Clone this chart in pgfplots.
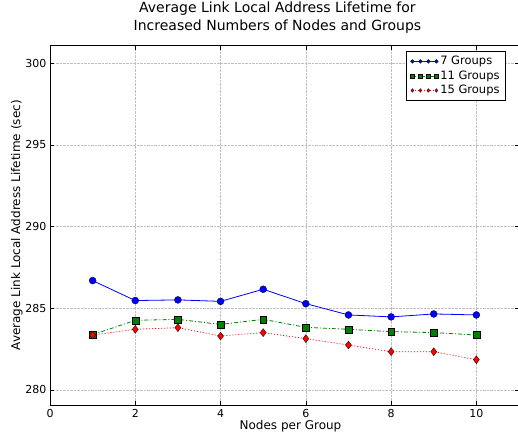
\documentclass[border=0pt]{standalone}
\usepackage{pgfplots}
\pgfplotsset{compat=1.18}
\usepackage{fontspec}
\setmainfont{DejaVu Sans}
\definecolor{mblue}{rgb}{0,0,1}
\definecolor{mgreen}{rgb}{0,0.5,0}
\definecolor{mred}{rgb}{1,0,0}
\begin{document}
\begin{tikzpicture}
\useasboundingbox (-50pt,-31pt) rectangle (468pt,405pt);
\begin{axis}[
  at={(0pt,0pt)}, anchor=south west,
  scale only axis, width=469pt, height=359.3pt,
  xmin=0, xmax=11, ymin=279.08, ymax=301.06,
  xtick={0,2,4,6,8,10}, ytick={280,285,290,295,300},
  tick align=inside, major tick length=4pt,
  tick style={black, line width=0.5pt},
  axis line style={black, line width=0.8pt},
  grid=major, grid style={densely dotted, gray!50, line width=0.5pt},
  /pgf/number format/assume math mode=true,
  ticklabel style={font=\fontsize{11}{13}\selectfont},
  xticklabel style={yshift=-1pt},
  title={Average Link Local Address Lifetime for\\Increased Numbers of Nodes and Groups},
  title style={font=\fontsize{14}{18}\selectfont, align=center, at={(0.485,1)}, anchor=south, yshift=3pt},
  xlabel={Nodes per Group},
  ylabel={Average Link Local Address Lifetime (sec)},
  label style={font=\fontsize{12}{14}\selectfont},
  xlabel style={xshift=6pt, yshift=4pt},
  ylabel style={yshift=-4pt},
  legend style={at={(0.972,0.985)}, anchor=north east, draw=black, line width=0.6pt,
    font=\fontsize{11.5}{13}\selectfont, inner xsep=4pt, inner ysep=3pt, row sep=0.5pt,
    cells={anchor=west}},
  legend image code/.code={%
    \draw[#1, mark size=1.9pt] plot coordinates {(0pt,0pt) (8pt,0pt) (16pt,0pt) (24pt,0pt)};},
]
\addplot[mblue, line width=0.8pt, mark=*, mark size=3.5pt, mark options={draw=black, line width=0.3pt, fill=mblue, solid}]
coordinates {(1,286.69) (2,285.47) (3,285.51) (4,285.42) (5,286.16) (6,285.28) (7,284.59) (8,284.47) (9,284.65) (10,284.59)};
\addlegendentry{7 Groups}
\addplot[mgreen, line width=0.8pt, dash pattern=on 4pt off 2pt on 1pt off 2pt, mark=square*, mark size=3.4pt, mark options={draw=black, line width=0.3pt, fill=mgreen, solid}]
coordinates {(1,283.38) (2,284.26) (3,284.32) (4,284.01) (5,284.32) (6,283.83) (7,283.71) (8,283.57) (9,283.51) (10,283.36)};
\addlegendentry{11 Groups}
\addplot[mred, line width=0.8pt, dash pattern=on 1pt off 2pt, mark=diamond*, mark size=4pt, mark options={draw=black, line width=0.3pt, fill=mred, solid}]
coordinates {(1,283.36) (2,283.71) (3,283.81) (4,283.30) (5,283.51) (6,283.14) (7,282.75) (8,282.34) (9,282.34) (10,281.85)};
\addlegendentry{15 Groups}
\end{axis}
\end{tikzpicture}
\end{document}
